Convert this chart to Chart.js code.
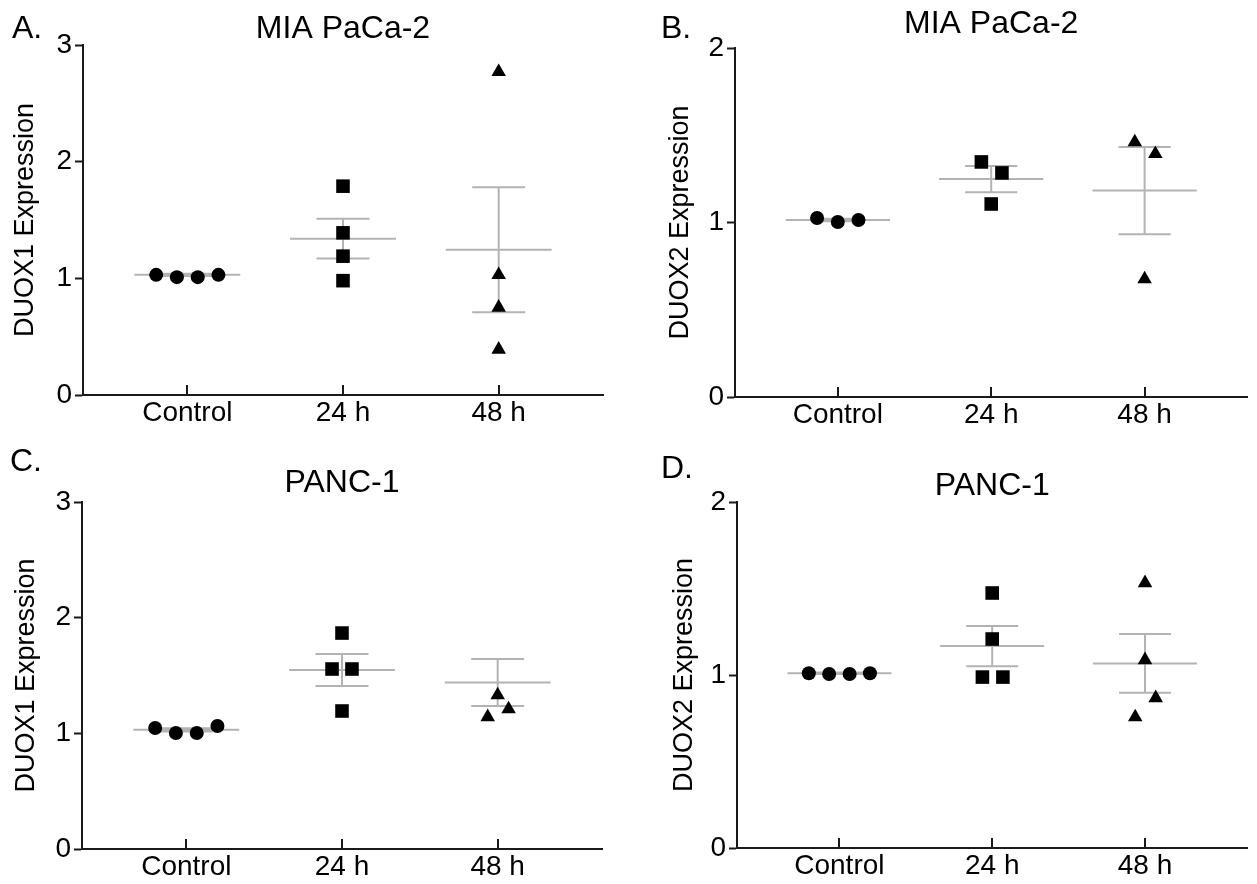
<!DOCTYPE html>
<html lang="en">
<head>
    <meta charset="UTF-8">
    <title>DUOX expression</title>
    <script src="https://cdn.jsdelivr.net/npm/chart.js"></script>
    <style>
        body {
            margin: 0;
            background: #fff;
            font-family: 'Liberation Sans', Arial, sans-serif;
        }

        #wrap {
            position: relative;
            width: 1257px;
            height: 884px;
            overflow: hidden;
        }

        canvas {
            position: absolute;
        }

        .letter {
            position: absolute;
            font-size: 32px;
            line-height: 1;
            color: #000;
        }
    </style>
</head>
<body>
    <div id="wrap">
        <canvas id="panelA" width="613" height="440" style="left:0;top:0"></canvas>
        <canvas id="panelB" width="627" height="440" style="left:630px;top:0"></canvas>
        <canvas id="panelC" width="613" height="444" style="left:0;top:440px"></canvas>
        <canvas id="panelD" width="627" height="444" style="left:630px;top:440px"></canvas>
        <div class="letter" style="left:12px;top:11px">A.</div>
        <div class="letter" style="left:661px;top:11px">B.</div>
        <div class="letter" style="left:10px;top:444px">C.</div>
        <div class="letter" style="left:661px;top:451px">D.</div>
    </div>
    <script>
        const categories = ['Control', '24 h', '48 h'];
        const ticksDuox1 = [0, 1, 2, 3];
        const ticksDuox2 = [0, 1, 2];

        // A. DUOX1, MIA PaCa-2
        const miaDuox1Control = [1.03, 1.01, 1.01, 1.03];
        const miaDuox1H24 = [1.79, 1.39, 1.19, 0.98];
        const miaDuox1H48 = [2.77, 1.03, 0.75, 0.39];
        const miaDuox1Mean = [1.03, 1.34, 1.245];
        const miaDuox1Sem = [0.01, 0.17, 0.535];
        const miaDuox1Spread = [[-0.2, -0.067, 0.067, 0.2], [0, 0, 0, 0], [0, 0, 0, 0]];

        // B. DUOX2, MIA PaCa-2
        const miaDuox2Control = [1.026, 1.003, 1.014];
        const miaDuox2H24 = [1.347, 1.284, 1.106];
        const miaDuox2H48 = [1.461, 1.393, 0.676];
        const miaDuox2Mean = [1.014, 1.249, 1.183];
        const miaDuox2Sem = [0.007, 0.075, 0.25];
        const miaDuox2Spread = [[-0.135, 0, 0.135], [-0.064, 0.07, 0], [-0.064, 0.07, 0]];

        // C. DUOX1, PANC-1
        const pancDuox1Control = [1.046, 1.003, 1.003, 1.063];
        const pancDuox1H24 = [1.867, 1.556, 1.556, 1.193];
        const pancDuox1H48 = [1.331, 1.141, 1.21];
        const pancDuox1Mean = [1.03, 1.547, 1.439];
        const pancDuox1Sem = [0.015, 0.138, 0.203];
        const pancDuox1Spread = [[-0.2, -0.067, 0.067, 0.2], [0, -0.064, 0.064, 0], [0, -0.064, 0.07]];

        // D. DUOX2, PANC-1
        const pancDuox2Control = [1.01, 1.006, 1.006, 1.01];
        const pancDuox2H24 = [1.474, 1.208, 0.988, 0.988];
        const pancDuox2H48 = [1.532, 1.087, 0.867, 0.757];
        const pancDuox2Mean = [1.01, 1.167, 1.067];
        const pancDuox2Sem = [0.004, 0.116, 0.17];
        const pancDuox2Spread = [[-0.2, -0.067, 0.067, 0.2], [0, 0, -0.064, 0.07], [0, 0, 0.07, -0.064]];

        const FONT = "'Liberation Sans', Arial, sans-serif";
        const INK = '#000';
        const AXIS = '#1a1a1a';
        const GREY = '#b3b3b3';
        const shapes = ['circle', 'rect', 'triangle'];
        const radii = [7, 9.6, 8.4];

        // x ticks point up into the plot, like the prism figure
        const innerTicks = {
            id: 'innerTicks',
            afterDraw(chart) {
                const x = chart.scales.x, ctx = chart.ctx;
                const bottom = chart.chartArea.bottom;
                ctx.save();
                ctx.strokeStyle = AXIS;
                ctx.lineWidth = 2;
                x.ticks.forEach(t => {
                    const px = Math.round(x.getPixelForValue(t.value));
                    ctx.beginPath();
                    ctx.moveTo(px, bottom);
                    ctx.lineTo(px, bottom - 10);
                    ctx.stroke();
                });
                ctx.restore();
            }
        };

        function drawPanel(id, title, yTitle, groups, spreads, means, sems, yTicks, box) {
            const datasets = [];
            groups.forEach((vals, g) => {
                datasets.push({
                    data: vals.map((v, i) => ({ x: g + spreads[g][i], y: v })),
                    pointStyle: shapes[g],
                    pointRadius: radii[g],
                    backgroundColor: '#000',
                    borderColor: '#000',
                    borderWidth: 0,
                    order: 0
                });
            });
            // mean line + SEM whiskers, gaps split the pieces
            means.forEach((m, g) => {
                const hi = m + sems[g], lo = m - sems[g];
                datasets.push({
                    data: [
                        { x: g - 0.34, y: m }, { x: g + 0.34, y: m }, { x: g, y: null },
                        { x: g - 0.17, y: hi }, { x: g + 0.17, y: hi }, { x: g, y: null },
                        { x: g, y: hi }, { x: g, y: lo }, { x: g, y: null },
                        { x: g - 0.17, y: lo }, { x: g + 0.17, y: lo }
                    ],
                    showLine: true,
                    spanGaps: false,
                    borderColor: GREY,
                    borderWidth: 2,
                    pointRadius: 0,
                    order: 1
                });
            });

            new Chart(document.getElementById(id), {
                type: 'scatter',
                data: { datasets: datasets },
                plugins: [innerTicks],
                options: {
                    responsive: false,
                    animation: false,
                    clip: false,
                    layout: { padding: { left: 0, right: box.pr, top: 0, bottom: 0 } },
                    plugins: {
                        legend: { display: false },
                        tooltip: { enabled: false },
                        title: {
                            display: true,
                            text: title,
                            fullSize: false,
                            color: INK,
                            font: { family: FONT, size: 32, weight: 'normal', lineHeight: 1 },
                            padding: { top: box.tt, bottom: box.tb }
                        }
                    },
                    scales: {
                        x: {
                            type: 'linear',
                            min: -0.67,
                            max: 2.67,
                            afterBuildTicks: s => { s.ticks = categories.map((c, i) => ({ value: i })); },
                            afterFit: s => { s.height = box.xh; },
                            ticks: {
                                callback: v => categories[v],
                                color: INK,
                                padding: 1,
                                font: { family: FONT, size: 28 }
                            },
                            grid: { drawOnChartArea: false, drawTicks: false },
                            border: { color: AXIS, width: 2 }
                        },
                        y: {
                            min: 0,
                            max: yTicks[yTicks.length - 1],
                            afterBuildTicks: s => { s.ticks = yTicks.map(v => ({ value: v })); },
                            afterFit: s => { s.width = box.yw; },
                            ticks: {
                                color: INK,
                                padding: 3,
                                font: { family: FONT, size: 28 }
                            },
                            title: {
                                display: true,
                                text: yTitle,
                                color: INK,
                                font: { family: FONT, size: 27 },
                                padding: { top: box.yt, bottom: 0 }
                            },
                            grid: { drawOnChartArea: false, tickLength: 8, tickColor: AXIS, tickWidth: 2 },
                            border: { color: AXIS, width: 2 }
                        }
                    }
                }
            });
        }

        drawPanel('panelA', 'MIA PaCa-2', 'DUOX1 Expression',
            [miaDuox1Control, miaDuox1H24, miaDuox1H48], miaDuox1Spread, miaDuox1Mean, miaDuox1Sem, ticksDuox1,
            { pr: 10, yw: 83, xh: 45, tt: 13, tb: 0, yt: 9 });

        drawPanel('panelB', 'MIA PaCa-2', 'DUOX2 Expression',
            [miaDuox2Control, miaDuox2H24, miaDuox2H48], miaDuox2Spread, miaDuox2Mean, miaDuox2Sem, ticksDuox2,
            { pr: 2, yw: 105, xh: 43, tt: 8, tb: 8, yt: 34 });

        drawPanel('panelC', 'PANC-1', 'DUOX1 Expression',
            [pancDuox1Control, pancDuox1H24, pancDuox1H48], pancDuox1Spread, pancDuox1Mean, pancDuox1Sem, ticksDuox1,
            { pr: 11, yw: 82, xh: 35, tt: 27, tb: 3, yt: 10 });

        drawPanel('panelD', 'PANC-1', 'DUOX2 Expression',
            [pancDuox2Control, pancDuox2H24, pancDuox2H48], pancDuox2Spread, pancDuox2Mean, pancDuox2Sem, ticksDuox2,
            { pr: 1, yw: 107, xh: 36, tt: 30, tb: 0, yt: 38 });
    </script>
</body>
</html>
